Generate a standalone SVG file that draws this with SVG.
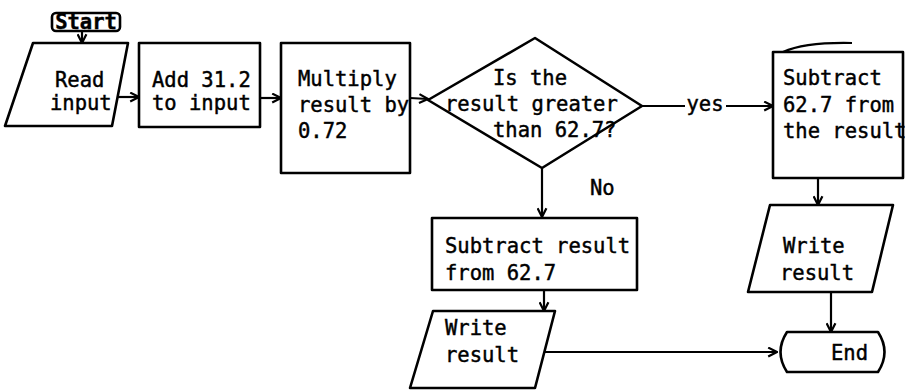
<svg xmlns="http://www.w3.org/2000/svg" width="905" height="390" viewBox="0 0 905 390">
  <style>
    .shape { fill: #fff; stroke: #000; stroke-width: 2.6; stroke-linejoin: round; }
    .edge { fill: none; stroke: #000; stroke-width: 2.2; }
    .lbl { font-family: "DejaVu Sans Mono", "Liberation Mono", monospace; font-size: 20.5px; fill: #000; stroke: #000; stroke-width: 0.45; }
  </style>
  <defs>
    <marker id="arrow" viewBox="0 0 10 10" refX="9" refY="5" markerWidth="11" markerHeight="11" orient="auto" markerUnits="userSpaceOnUse">
      <polyline points="1,1 9,5 1,9" fill="none" stroke="#000" stroke-width="2"/>
    </marker>
  </defs>
  <rect width="905" height="390" fill="#fff"/>

  <g id="connectors">
    <line class="edge" x1="82" y1="31" x2="82" y2="43" marker-end="url(#arrow)"/>
    <line class="edge" x1="118" y1="97" x2="139" y2="97" marker-end="url(#arrow)"/>
    <line class="edge" x1="260" y1="98" x2="281" y2="98" marker-end="url(#arrow)"/>
    <line class="edge" x1="410" y1="98" x2="428" y2="99" marker-end="url(#arrow)"/>
    <line class="edge" x1="642" y1="106" x2="685" y2="106"/>
    <line class="edge" x1="726" y1="106" x2="773" y2="106" marker-end="url(#arrow)"/>
    <text class="lbl" x="705" y="111" text-anchor="middle">yes</text>
    <line class="edge" x1="542" y1="168" x2="542" y2="217" marker-end="url(#arrow)"/>
    <text class="lbl" x="590" y="195">No</text>
    <line class="edge" x1="544" y1="290" x2="544" y2="311" marker-end="url(#arrow)"/>
    <line class="edge" x1="818" y1="178" x2="818" y2="205" marker-end="url(#arrow)"/>
    <line class="edge" x1="831" y1="292" x2="831" y2="332" marker-end="url(#arrow)"/>
    <line class="edge" x1="545" y1="352" x2="777" y2="352" marker-end="url(#arrow)"/>
  </g>

  <g id="start">
    <rect class="shape" x="52" y="13" width="68" height="18" rx="4"/>
    <text class="lbl" x="86" y="29" text-anchor="middle" font-weight="bold" font-size="19">Start</text>
  </g>

  <g id="read-input">
    <polygon class="shape" points="33,43 128,43 112,126 5,126"/>
    <text class="lbl" x="55" y="87">Read</text>
    <text class="lbl" x="50" y="110">input</text>
  </g>

  <g id="add">
    <rect class="shape" x="139" y="43" width="121" height="84"/>
    <text class="lbl" x="152" y="87">Add 31.2</text>
    <text class="lbl" x="152" y="110">to input</text>
  </g>

  <g id="multiply">
    <rect class="shape" x="281" y="43" width="129" height="130"/>
    <text class="lbl" x="298" y="86">Multiply</text>
    <text class="lbl" x="298" y="112">result by</text>
    <text class="lbl" x="298" y="138">0.72</text>
  </g>

  <g id="decision">
    <polygon class="shape" points="428,100 535,38 642,106 542,168"/>
    <text class="lbl" x="493" y="85">Is the</text>
    <text class="lbl" x="445" y="111">result greater</text>
    <text class="lbl" x="493" y="137">than 62.7?</text>
  </g>

  <g id="subtract-yes">
    <rect class="shape" x="773" y="52" width="130" height="126"/>
    <path class="edge" d="M783,52 Q805,42 852,43"/>
    <text class="lbl" x="783" y="85">Subtract</text>
    <text class="lbl" x="783" y="112">62.7 from</text>
    <text class="lbl" x="783" y="138">the result</text>
  </g>

  <g id="subtract-no">
    <rect class="shape" x="432" y="218" width="205" height="72"/>
    <text class="lbl" x="445" y="253">Subtract result</text>
    <text class="lbl" x="445" y="280">from 62.7</text>
  </g>

  <g id="write-no">
    <polygon class="shape" points="433,311 555,311 535,388 410,388"/>
    <text class="lbl" x="445" y="335">Write</text>
    <text class="lbl" x="445" y="362">result</text>
  </g>

  <g id="write-yes">
    <polygon class="shape" points="770,205 893,205 872,292 748,292"/>
    <text class="lbl" x="783" y="253">Write</text>
    <text class="lbl" x="780" y="280">result</text>
  </g>

  <g id="end">
    <path class="shape" d="M787,332 L878,332 Q891,352 878,372 L787,372 Q774,352 787,332 Z"/>
    <text class="lbl" x="831" y="360">End</text>
  </g>
</svg>
